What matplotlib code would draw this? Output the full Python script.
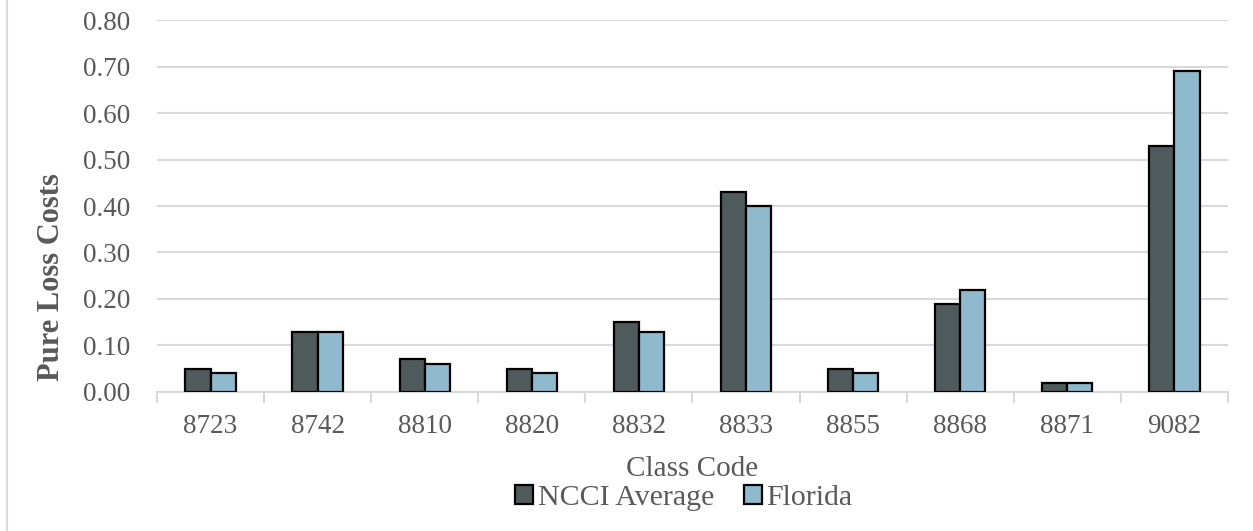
import matplotlib.pyplot as plt
import numpy as np
from matplotlib.lines import Line2D
from matplotlib.patches import Patch

codes = ['8723', '8742', '8810', '8820', '8832', '8833', '8855', '8868', '8871', '9082']
ncci = [0.05, 0.13, 0.07, 0.05, 0.15, 0.43, 0.05, 0.19, 0.02, 0.53]
florida = [0.04, 0.13, 0.06, 0.04, 0.13, 0.40, 0.04, 0.22, 0.02, 0.69]

dark = '#4F5A5C'
light = '#8FB9CC'
grid_c = '#D9D9D9'
text_c = '#595959'

plt.rcParams['font.family'] = ['Liberation Serif', 'DejaVu Serif']

fig = plt.figure(figsize=(12.53, 5.31), dpi=100)
ax = fig.add_axes([0.1253, 0.2618, 0.8547, 0.7005])

x = np.arange(len(codes))
w = 0.235
ax.bar(x - w / 2, ncci, w, color=dark, edgecolor='black', linewidth=1.6, zorder=3)
ax.bar(x + w / 2, florida, w, color=light, edgecolor='black', linewidth=1.6, zorder=3)

ax.set_xlim(-0.5, len(codes) - 0.5)
ax.set_ylim(0, 0.8)
ax.set_yticks(np.arange(0, 0.81, 0.1))
ax.set_yticklabels([f'{v:.2f}' for v in np.arange(0, 0.81, 0.1)])
ax.set_xticks(x)
ax.set_xticklabels(codes)
ax.set_xticks(np.arange(-0.5, len(codes)), minor=True)

ax.grid(axis='y', color=grid_c, linewidth=1.5, zorder=0)
for s in ['top', 'right', 'left']:
    ax.spines[s].set_visible(False)
ax.spines['bottom'].set_color(grid_c)
ax.spines['bottom'].set_linewidth(1.5)

ax.tick_params(axis='y', length=0, pad=19, labelsize=19.5, labelcolor=text_c)
ax.tick_params(axis='x', which='major', length=0, pad=16, labelsize=19.5, labelcolor=text_c)
ax.tick_params(axis='x', which='minor', length=8, width=1.5, color=grid_c)

fig.text(52 / 1253, 1 - 277 / 531, 'Pure Loss Costs', rotation=90, ha='center', va='center',
         fontsize=22, fontweight='bold', color=text_c)
ax.set_xlabel('Class Code', fontsize=21, color=text_c, labelpad=12)

handles = [Patch(facecolor=dark, edgecolor='black', linewidth=1.6),
           Patch(facecolor=light, edgecolor='black', linewidth=1.6)]
leg = fig.legend(handles, ['NCCI Average', 'Florida'], loc='center', bbox_to_anchor=(684 / 1253, 1 - 498 / 531),
                 ncol=2, frameon=False, fontsize=21.5, handlelength=0.6, handleheight=0.6,
                 handletextpad=0.15, columnspacing=1.0, borderpad=0)
for t in leg.get_texts():
    t.set_color(text_c)

fig.add_artist(Line2D([7 / 1253, 7 / 1253], [0, 1], color=grid_c, linewidth=1.5, transform=fig.transFigure))

fig.savefig('out.png', dpi=100)
